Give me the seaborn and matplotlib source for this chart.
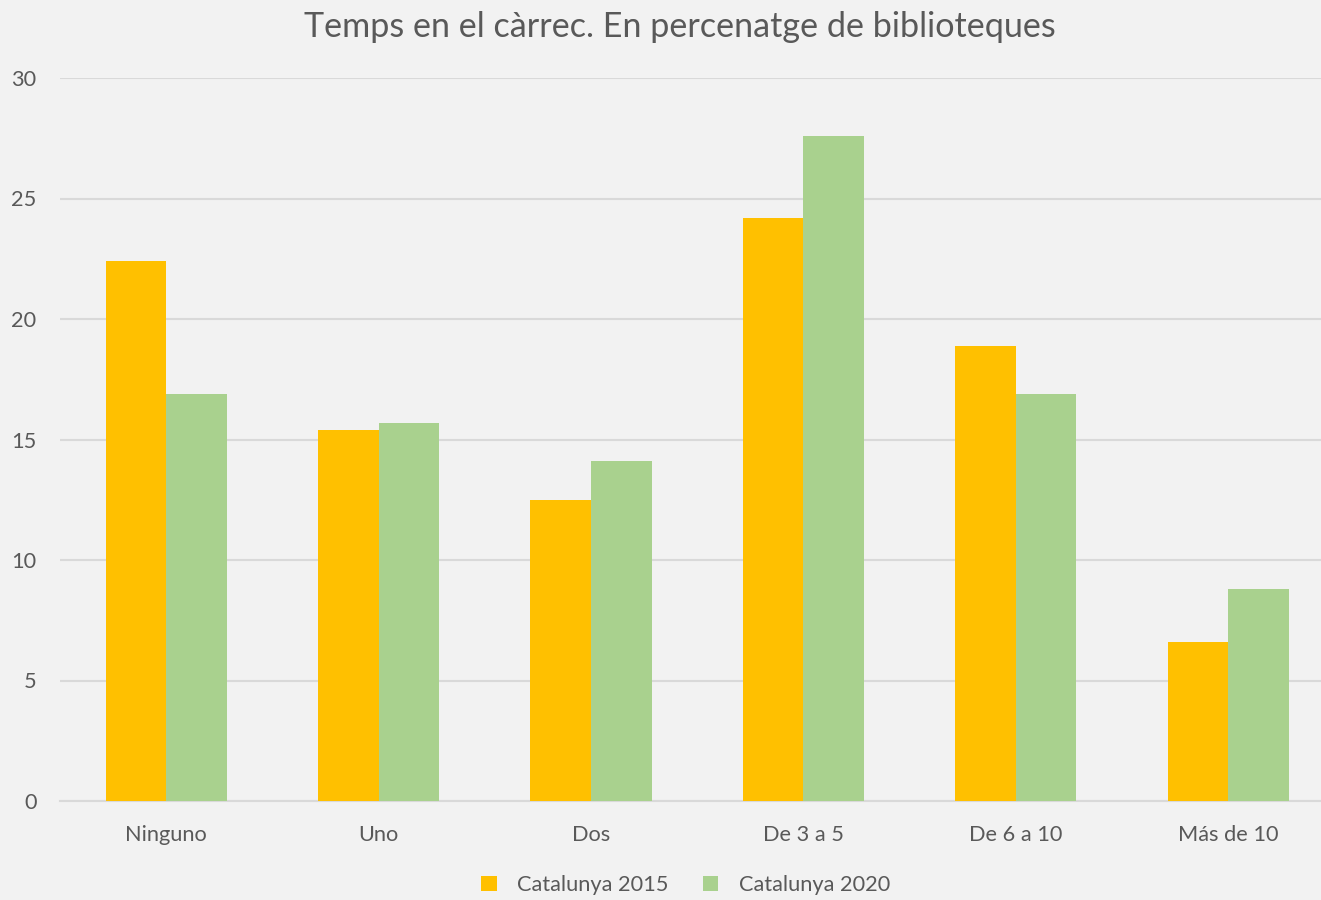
import numpy as np
import pandas as pd
import matplotlib
matplotlib.use("Agg")
import matplotlib.pyplot as plt
import seaborn as sns
from matplotlib.patches import Patch

### DATA ###
categories = ["Ninguno", "Uno", "Dos", "De 3 a 5", "De 6 a 10", "Más de 10"]
cat_2015 = [22.4, 15.4, 12.5, 24.2, 18.9, 6.6]
cat_2020 = [16.9, 15.7, 14.1, 27.6, 16.9, 8.8]
series = ["Catalunya 2015", "Catalunya 2020"]
yticks = [0, 5, 10, 15, 20, 25, 30]

data = pd.DataFrame({
    "cat": categories * 2,
    "serie": [series[0]] * len(categories) + [series[1]] * len(categories),
    "val": cat_2015 + cat_2020,
})

bg = "#F2F2F2"
txt = "#595959"
colors = ["#FFC000", "#A9D18E"]

sns.set_theme(style="white")
plt.rcParams["font.family"] = ["Lato", "DejaVu Sans"]

fig = plt.figure(figsize=(13.21, 9), dpi=100, facecolor=bg)
ax = fig.add_axes([60 / 1321, 1 - 801 / 900, 1 - 60 / 1321, (801 - 78) / 900])
ax.set_facecolor(bg)

sns.barplot(data=data, x="cat", y="val", hue="serie", palette=colors,
            width=0.57, gap=0, saturation=1, ax=ax, legend=False, zorder=3)
for p in ax.patches:
    p.set_edgecolor("none")

#! axes and grid (plot area is cut at the right edge, like the original)
ax.set_ylim(0, 30)
ax.set_xlim(-0.5, -0.5 + 1261 / 212.4)
ax.set_yticks(yticks)
ax.yaxis.grid(True, color="#D9D9D9", linewidth=1.5, zorder=0)
ax.set_axisbelow(True)
for s in ["top", "right", "left"]:
    ax.spines[s].set_visible(False)
ax.spines["bottom"].set_color("#D9D9D9")
ax.spines["bottom"].set_linewidth(1.5)
ax.tick_params(axis="both", length=0, labelsize=15.7, labelcolor=txt)
ax.tick_params(axis="y", pad=17)
ax.tick_params(axis="x", pad=17)
ax.set_xlabel("")
ax.set_ylabel("")

#! title and legend
fig.text(0.5147, 1 - 27 / 900, "Temps en el càrrec. En percenatge de biblioteques",
         ha="center", va="center", fontsize=24.6, color=txt)
handles = [Patch(facecolor=c, edgecolor="none") for c in colors]
fig.legend(handles, series, loc="center", bbox_to_anchor=(0.519, 1 - 885 / 900),
           ncol=2, frameon=False, fontsize=15.7, labelcolor=txt,
           handlelength=0.7, handleheight=0.7, handletextpad=0.95, columnspacing=1.55)

plt.savefig("out.png", dpi=100, facecolor=bg)
